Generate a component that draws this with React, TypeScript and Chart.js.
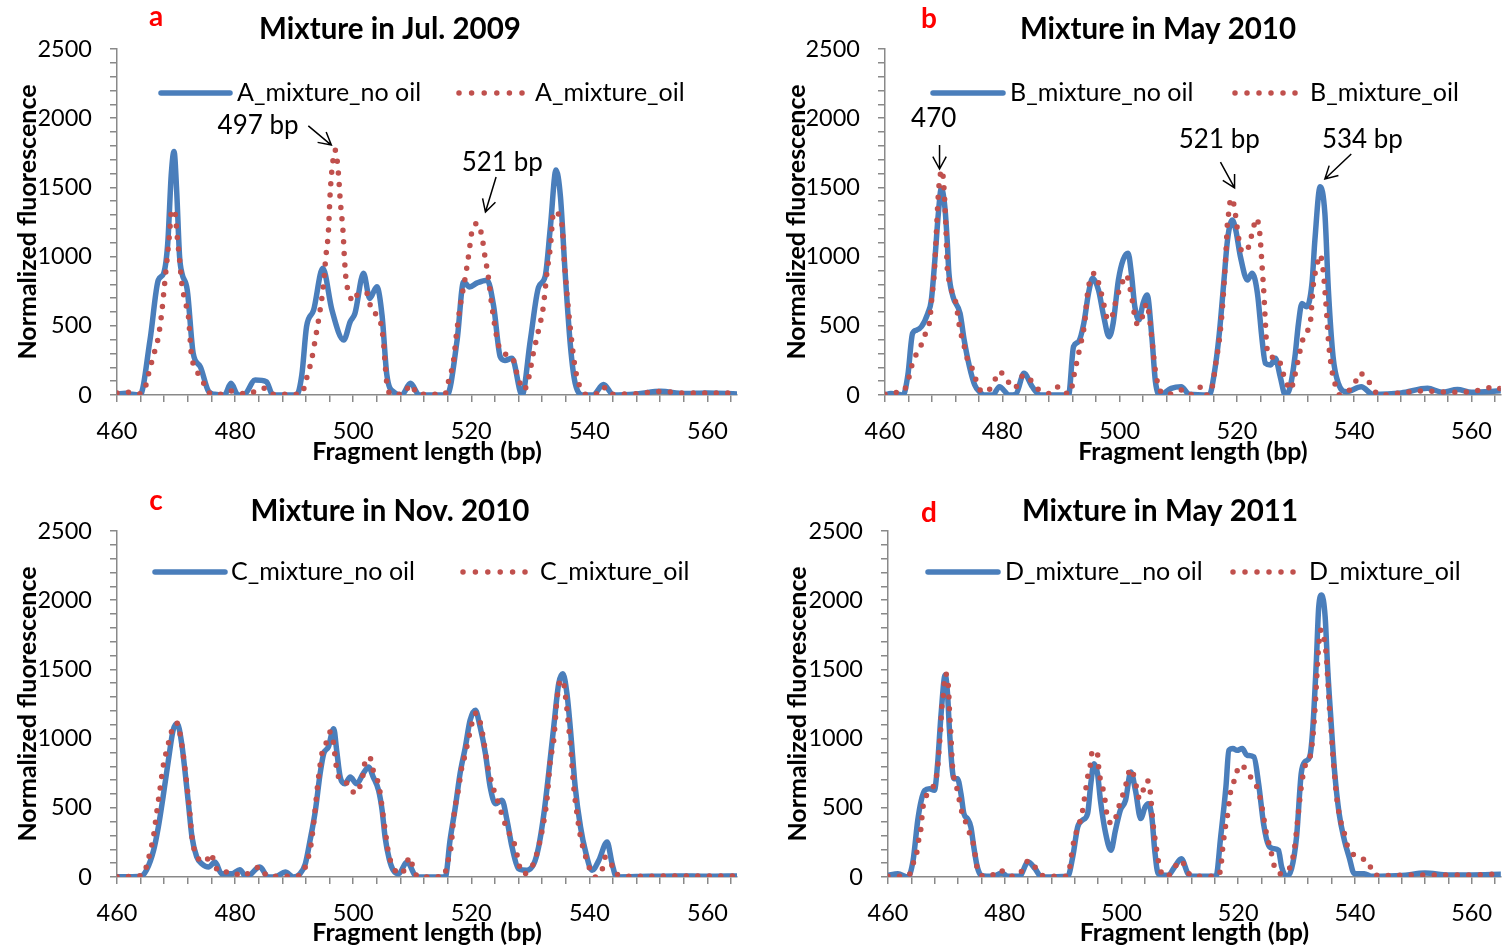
import React, { useEffect, useRef } from 'react';
import { Chart, registerables } from 'chart.js';

Chart.register(...registerables);

// ---------------- data ----------------
const X_TICKS = [460, 464, 468, 472, 476, 480, 484, 488, 492, 496, 500, 504, 508, 512, 516, 520, 524, 528, 532, 536, 540, 544, 548, 552, 556, 560, 564];
const X_LABELS = [460, 480, 500, 520, 540, 560];
const Y_TICKS = [0, 100, 200, 300, 400, 500, 600, 700, 800, 900, 1000, 1100, 1200, 1300, 1400, 1500, 1600, 1700, 1800, 1900, 2000, 2100, 2200, 2300, 2400, 2500];
const Y_LABELS = [0, 500, 1000, 1500, 2000, 2500];

const A_NO_OIL: [number, number][] = [
  [460, 8], [461.5, 12], [462.5, 5], [463.9, 0], [465.6, 400], [467.0, 831], [467.9, 879], [468.6, 1100], [469.2, 1600], [469.66, 1760],
  [470.1, 1481], [470.6, 1000], [471.0, 880], [471.9, 758], [472.9, 302], [474.1, 205], [475.5, 27], [476.5, 5], [478.2, 0], [479.3, 84],
  [480.5, 0], [481.6, 5], [483.4, 108], [485.3, 96], [486.4, 0], [490.4, 0], [491.3, 145], [492.1, 493], [493.3, 614], [494.85, 915],
  [496.4, 614], [498.4, 397], [499.5, 530], [500.3, 590], [501.75, 879], [502.8, 698], [504.0, 783], [504.9, 570], [505.7, 145], [506.9, 20],
  [508.2, 0], [509.7, 84], [511.2, 0], [515.9, 0], [517.6, 397], [518.7, 819], [519.7, 780], [521.0, 810], [522.7, 830], [523.8, 638],
  [524.9, 277], [525.7, 250], [526.9, 265], [528.6, 0], [530.0, 397], [531.4, 780], [532.5, 855], [533.4, 1216], [534.35, 1626], [535.1, 1433],
  [535.9, 880], [536.8, 350], [537.6, 84], [539.0, 0], [540.6, 0], [542.4, 75], [544.1, 0], [548, 8], [552.1, 27], [556, 10], [560, 15], [565, 8],
];
const A_OIL: [number, number][] = [
  [460, 15], [462, 20], [464, 8], [464.9, 72], [465.3, 145], [466.2, 290], [466.9, 397], [467.5, 566], [468.1, 819], [468.5, 988],
  [468.9, 1168], [469.25, 1337], [469.8, 1320], [470.2, 1145], [470.6, 976], [471.0, 795], [471.7, 650], [472.1, 566], [472.6, 290], [473.2, 200],
  [474.1, 130], [474.7, 84], [476, 5], [477.5, 5], [479, 30], [480.2, 25], [482, 5], [484.8, 50], [486, 5], [491.2, 5],
  [492.1, 120], [493, 265], [493.7, 433], [494.4, 614], [494.9, 771], [495.4, 1012], [495.8, 1180], [496.1, 1457], [496.4, 1626], [496.95, 1770],
  [497.5, 1600], [497.8, 1410], [498.3, 1168], [498.5, 1000], [498.8, 831], [499.2, 747], [500.05, 674], [500.9, 735], [502.3, 735], [503.2, 602],
  [504.3, 566], [505.1, 397], [505.4, 229], [505.7, 84], [506.5, 5], [508.5, 5], [509.7, 75], [511, 5], [515.5, 5], [516.2, 108],
  [517.0, 250], [517.5, 445], [518.1, 638], [519.0, 855], [519.6, 1024], [520.1, 1180], [521.1, 1240], [521.8, 1145], [522.4, 976], [522.8, 880],
  [523.5, 638], [524.1, 470], [524.6, 361], [525.5, 300], [526.9, 277], [527.8, 145], [528.9, 36], [529.7, 120], [530.5, 300], [531.4, 470],
  [532.2, 638], [532.8, 880], [533.4, 1072], [533.95, 1325], [534.5, 1315], [535.4, 1217], [535.7, 1000], [536.2, 735], [536.8, 470], [537.6, 193],
  [538.5, 48], [539.5, 5], [541, 5], [542.3, 60], [543.5, 5], [548, 10], [552, 25], [556, 15], [560, 15], [565, 15],
];

const B_NO_OIL: [number, number][] = [
  [460, 0], [461, 10], [462, 8], [463.1, 0], [463.9, 145], [464.7, 445], [465.4, 469], [466.2, 493], [467.3, 590], [467.9, 686],
  [468.5, 976], [469.1, 1313], [469.6, 1493], [470.2, 1360], [470.6, 1120], [470.9, 880], [471.6, 710], [472.8, 590], [473.5, 397], [474.4, 205],
  [475.3, 72], [476.1, 24], [476.9, 0], [478.4, 0], [479.5, 60], [481.2, 0], [482.3, 5], [483.7, 157], [485.1, 60], [486.5, 0],
  [491.3, 0], [492.15, 350], [493, 385], [493.9, 518], [494.7, 735], [495.4, 843], [496.4, 758], [497.3, 566], [498.2, 421], [498.9, 518],
  [499.8, 831], [500.6, 976], [501.45, 1024], [502.0, 880], [502.6, 638], [503.3, 542], [504.0, 662], [504.7, 722], [505.5, 420], [506.1, 100],
  [506.9, 0], [508.8, 48], [510.5, 60], [511.9, 5], [515.3, 0], [516.1, 145], [517.0, 445], [517.8, 831], [518.4, 1120], [519.2, 1264],
  [519.8, 1193], [520.6, 1000], [521.8, 831], [522.6, 880], [523.5, 735], [524.3, 397], [524.86, 229], [525.7, 217], [526.55, 265], [527.4, 130],
  [528.25, 0], [529.1, 60], [529.9, 277], [530.5, 518], [531.1, 662], [531.9, 638], [532.8, 807], [533.3, 1120], [534.2, 1505], [535.0, 1313],
  [535.6, 758], [536.4, 277], [537.3, 84], [538.7, 24], [541.2, 60], [543.2, 5], [548, 15], [552.5, 48], [555, 20], [557.6, 40], [560, 20], [565, 30],
];
const B_OIL: [number, number][] = [
  [460, 5], [461.5, 20], [462.5, 15], [463.6, 60], [464.1, 130], [464.6, 217], [465.4, 300], [466.3, 373], [466.9, 445], [467.6, 530],
  [468.0, 710], [468.4, 880], [468.7, 1120], [469.05, 1420], [469.3, 1553], [469.7, 1626], [470.0, 1530], [470.4, 1193], [470.6, 928], [470.9, 831],
  [471.4, 747], [472.1, 662], [472.7, 493], [473.6, 337], [474.1, 253], [475.0, 180], [475.9, 60], [476.8, 20], [477.8, 40], [478.6, 96],
  [479.5, 169], [480.8, 108], [482.0, 48], [483.7, 145], [484.6, 120], [485.6, 60], [486.8, 24], [488.2, 10], [489.6, 60], [490.6, 20],
  [491.5, 10], [492.4, 180], [493.2, 337], [494.0, 506], [494.6, 758], [495.0, 831], [495.7, 880], [496.6, 783], [497.4, 638], [498.0, 542],
  [498.8, 578], [499.4, 686], [500.3, 795], [501.1, 867], [502.0, 722], [502.6, 566], [503.1, 506], [504.0, 578], [504.6, 662], [505.4, 445],
  [505.7, 325], [506.0, 205], [506.5, 84], [507.5, 5], [509, 10], [510.5, 36], [511.8, 0], [513.3, 36], [513.9, 60], [514.9, 0],
  [515.8, 60], [516.4, 229], [517.0, 397], [517.5, 614], [518.1, 1000], [518.4, 1252], [518.7, 1337], [518.9, 1421], [519.5, 1373], [519.8, 1289],
  [520.35, 1120], [520.9, 1036], [521.6, 1036], [522.3, 1120], [522.8, 1205], [523.3, 1277], [523.9, 1168], [524.3, 928], [524.6, 735], [524.86, 518],
  [525.1, 349], [525.7, 277], [527.1, 265], [527.7, 180], [528.4, 96], [529.1, 36], [529.9, 145], [530.8, 325], [531.6, 445], [532.5, 518],
  [533.0, 783], [533.6, 928], [534.2, 1012], [534.7, 904], [535.0, 758], [535.3, 590], [535.6, 397], [536.1, 205], [536.7, 84], [537.55, 0],
  [539.2, 36], [540.1, 84], [540.9, 159], [542.1, 120], [543.2, 48], [544.2, 0], [548, 15], [552, 30], [556, 20], [560, 25], [564.3, 60], [565, 40],
];

const C_NO_OIL: [number, number][] = [
  [460, 2], [462, 2], [464, 5], [465.0, 50], [466.2, 193], [467.0, 361], [467.8, 578], [468.7, 843], [469.5, 1060], [470.2, 1110],
  [470.96, 964], [471.5, 771], [472.1, 530], [472.7, 289], [473.5, 145], [474.35, 96], [475.5, 72], [476.6, 108], [477.7, 24], [479.5, 24],
  [480.8, 53], [481.9, 0], [484.2, 72], [485.6, 0], [487, 5], [488.5, 36], [489.9, 0], [491.0, 24], [491.9, 96], [492.7, 265],
  [493.6, 482], [494.4, 747], [495.0, 891], [495.8, 940], [496.7, 1072], [497.2, 915], [497.8, 722], [498.6, 674], [499.5, 722], [500.6, 674],
  [501.7, 747], [502.6, 795], [503.4, 722], [504.3, 626], [504.9, 482], [505.4, 289], [506.1, 130], [506.8, 48], [507.7, 24], [509.1, 108],
  [510.8, 0], [515.6, 0], [516.4, 265], [517.3, 506], [518.1, 747], [519.0, 940], [519.8, 1132], [520.7, 1204], [521.5, 1084], [522.4, 891],
  [523.2, 650], [524.1, 530], [525.2, 554], [526.05, 410], [526.9, 217], [528.0, 60], [529.4, 48], [530.6, 96], [531.4, 217], [532.3, 458],
  [533.1, 747], [533.96, 1084], [534.8, 1397], [535.5, 1469], [536.2, 1325], [536.9, 1012], [537.6, 650], [538.5, 361], [539.3, 193], [540.45, 48],
  [541.6, 120], [543.0, 253], [543.85, 96], [544.6, 0], [550, 5], [555, 8], [560, 5], [565, 8],
];
const C_OIL: [number, number][] = [
  [460, 2], [463, 5], [464.5, 20], [465.0, 80], [465.6, 180], [466.2, 300], [466.7, 458], [467.3, 640], [467.8, 795], [468.7, 964],
  [469.2, 1048], [470.1, 1115], [470.6, 1050], [471.1, 920], [471.8, 680], [472.3, 480], [472.7, 290], [473.2, 180], [474.1, 120], [475.0, 110],
  [475.9, 171], [476.5, 96], [477.3, 36], [479.7, 36], [481, 5], [484.2, 72], [485.5, 5], [490, 5], [491.5, 30], [492.2, 120],
  [492.7, 193], [493.3, 385], [494.1, 710], [494.7, 891], [495.5, 976], [496.1, 1048], [496.5, 1012], [497.2, 783], [497.8, 698], [499.2, 674],
  [500.3, 602], [501.2, 662], [501.7, 747], [502.0, 831], [502.8, 867], [503.3, 783], [504.4, 650], [505.1, 434], [505.5, 313], [506.0, 169],
  [506.8, 72], [507.8, 20], [508.8, 60], [509.55, 145], [510.2, 60], [511, 0], [515.4, 5], [515.9, 96], [516.5, 193], [517.1, 458],
  [517.9, 650], [518.3, 771], [519.0, 891], [519.6, 1012], [520.4, 1156], [520.8, 1185], [521.5, 1120], [522.1, 988], [522.7, 819], [523.5, 674],
  [524.8, 506], [525.5, 410], [526.3, 325], [527.2, 253], [527.7, 169], [528.6, 24], [529.7, 36], [531.1, 169], [532.0, 337], [532.8, 554],
  [533.4, 843], [533.96, 988], [534.5, 1277], [535.1, 1421], [535.5, 1421], [535.9, 1325], [536.5, 1084], [536.9, 891], [537.35, 650], [537.9, 458],
  [538.4, 313], [539.2, 169], [541.0, 0], [542.2, 60], [542.7, 145], [543.6, 108], [544.4, 24], [548, 5], [555, 8], [560, 8], [565, 8],
];

const D_NO_OIL: [number, number][] = [
  [460, 12], [461.7, 24], [463.4, 0], [464.3, 120], [465.1, 410], [465.7, 554], [466.3, 626], [467.1, 638], [467.95, 626], [468.5, 819],
  [469.1, 1180], [469.8, 1460], [470.2, 1325], [470.5, 1084], [470.97, 795], [471.3, 710], [471.9, 710], [472.5, 602], [473.0, 458], [473.6, 422],
  [474.2, 361], [474.7, 217], [475.3, 72], [476.0, 12], [478, 5], [479.5, 29], [480.5, 5], [482.5, 5], [484.0, 108], [485.2, 60],
  [486.3, 0], [490.8, 5], [491.65, 145], [492.5, 361], [493.3, 410], [494.2, 458], [494.75, 674], [495.3, 819], [495.9, 747], [496.4, 554],
  [497.3, 313], [498.2, 193], [498.97, 337], [499.8, 482], [500.7, 554], [501.6, 759], [502.4, 626], [503.3, 422], [504.05, 506], [504.6, 530],
  [505.2, 434], [505.7, 193], [506.3, 24], [508.0, 12], [509.1, 72], [510.25, 132], [511.4, 24], [512.2, 5], [516.2, 5], [517.0, 289],
  [517.9, 650], [518.4, 915], [519.1, 928], [519.8, 915], [520.7, 928], [521.5, 880], [522.7, 867], [523.5, 674], [524.35, 385], [525.2, 229],
  [526.05, 205], [526.9, 193], [527.45, 72], [528.3, 5], [529.15, 60], [530.0, 289], [530.8, 747], [531.4, 831], [532.25, 867], [532.8, 1084],
  [533.4, 1566], [533.8, 1951], [534.3, 2037], [534.9, 1880], [535.35, 1494], [535.9, 1132], [536.5, 771], [537.3, 458], [538.2, 265], [539.0, 145],
  [539.9, 24], [541.6, 24], [542.8, 5], [548, 10], [552, 29], [556, 15], [560, 15], [565, 19],
];
const D_OIL: [number, number][] = [
  [460, 5], [462, 5], [463.5, 8], [464.3, 96], [464.9, 169], [465.2, 253], [465.6, 337], [466.0, 506], [466.6, 590], [467.4, 626],
  [468.2, 710], [468.5, 783], [468.8, 952], [469.0, 1048], [469.2, 1217], [469.5, 1325], [469.8, 1469], [470.2, 1430], [470.4, 1337], [470.5, 1229],
  [470.8, 1012], [471.05, 800], [471.4, 698], [471.9, 626], [472.5, 494], [473.3, 398], [473.9, 325], [474.55, 253], [474.9, 169], [475.3, 60],
  [475.9, 12], [477.5, 5], [479.1, 53], [480.5, 10], [482, 5], [483.0, 48], [484.1, 120], [485.4, 60], [486.3, 12], [490.5, 5],
  [491.1, 60], [491.65, 217], [492.2, 313], [493.3, 470], [493.9, 638], [494.2, 722], [494.65, 807], [494.9, 891], [495.3, 908], [495.8, 915],
  [496.2, 747], [496.7, 662], [497.1, 578], [497.7, 410], [498.7, 385], [499.2, 458], [499.8, 542], [500.4, 614], [500.95, 698], [501.5, 783],
  [502.2, 722], [503.1, 566], [503.7, 626], [504.4, 699], [504.9, 626], [505.45, 373], [506.0, 205], [506.3, 120], [506.8, 36], [507.7, 0],
  [509.1, 72], [510.3, 120], [511.1, 48], [512.5, 5], [516.5, 5], [517.0, 60], [517.4, 229], [517.9, 385], [518.3, 482], [518.5, 566],
  [518.9, 650], [519.6, 722], [520.1, 807], [521.25, 783], [522.3, 710], [523.2, 650], [523.8, 566], [524.5, 398], [524.9, 301], [525.5, 205],
  [525.9, 132], [526.3, 60], [527.2, 24], [528.1, 36], [528.9, 72], [529.6, 193], [530.3, 458], [530.8, 650], [531.4, 795], [532.25, 855],
  [532.8, 1012], [533.2, 1241], [533.7, 1614], [534.1, 1783], [534.5, 1783], [534.8, 1687], [535.1, 1602], [535.35, 1421], [535.6, 1241], [535.9, 1072],
  [536.2, 891], [536.5, 747], [536.9, 566], [537.6, 398], [538.2, 313], [538.7, 229], [539.6, 169], [541.0, 132], [542.4, 108], [543.0, 24],
  [545, 10], [550, 15], [555, 15], [560, 15], [565, 24],
];

// ---------------- styling / layout ----------------
const FONT = 'Lato, "Open Sans", sans-serif';
const BLUE = '#4A7EBB';
const RED = '#C0504D';
const AXIS_GRAY = '#898989';
const CW = 755;
const CH = 474;

type Ann = { text: string; tx: number; ty: number; x1: number; y1: number; x2: number; y2: number };
type PanelCfg = {
  left: number; top: number;
  area: { left: number; top: number; right: number; bottom: number };
  yTitleCenter: number; xTitleCenter: number;
  letter: string; letterX: number; letterY: number;
  title: string; titleX: number; titleY: number;
  legendY: number; blueX1: number; blueX2: number; blueTextX: number; redX1: number; redX2: number; redTextX: number;
  blueLabel: string; redLabel: string;
  noOil: [number, number][]; oil: [number, number][];
  anns: Ann[];
};

const PANELS: PanelCfg[] = [
  {
    left: 0, top: 0, area: { left: 117, top: 49, right: 737, bottom: 395 }, yTitleCenter: 28, xTitleCenter: 452,
    letter: 'a', letterX: 156, letterY: 26, title: 'Mixture in Jul. 2009', titleX: 390, titleY: 39,
    legendY: 93, blueX1: 161, blueX2: 230, blueTextX: 237, redX1: 459, redX2: 522, redTextX: 535,
    blueLabel: 'A_mixture_no oil', redLabel: 'A_mixture_oil', noOil: A_NO_OIL, oil: A_OIL,
    anns: [
      { text: '497 bp', tx: 483.9, ty: 1944, x1: 492.4, y1: 1944, x2: 496.3, y2: 1806 },
      { text: '521 bp', tx: 525.25, ty: 1676, x1: 524.2, y1: 1575, x2: 522.4, y2: 1322 },
    ],
  },
  {
    left: 755, top: 0, area: { left: 130, top: 49, right: 750, bottom: 395 }, yTitleCenter: 42, xTitleCenter: 452,
    letter: 'b', letterX: 174, letterY: 28, title: 'Mixture in May 2010', titleX: 403, titleY: 39,
    legendY: 93, blueX1: 178, blueX2: 248, blueTextX: 255, redX1: 480, redX2: 540, redTextX: 555,
    blueLabel: 'B_mixture_no oil', redLabel: 'B_mixture_oil', noOil: B_NO_OIL, oil: B_OIL,
    anns: [
      { text: '470', tx: 468.3, ty: 1994, x1: 469.3, y1: 1806, x2: 469.3, y2: 1633 },
      { text: '521 bp', tx: 517.0, ty: 1842, x1: 517.2, y1: 1683, x2: 519.6, y2: 1496 },
      { text: '534 bp', tx: 541.4, ty: 1842, x1: 539.5, y1: 1741, x2: 535.0, y2: 1561 },
    ],
  },
  {
    left: 0, top: 474, area: { left: 117, top: 57, right: 737, bottom: 403 }, yTitleCenter: 28, xTitleCenter: 459,
    letter: 'c', letterX: 156, letterY: 36, title: 'Mixture in Nov. 2010', titleX: 390, titleY: 47,
    legendY: 98, blueX1: 155, blueX2: 225, blueTextX: 231, redX1: 463, redX2: 525, redTextX: 540,
    blueLabel: 'C_mixture_no oil', redLabel: 'C_mixture_oil', noOil: C_NO_OIL, oil: C_OIL,
    anns: [],
  },
  {
    left: 755, top: 474, area: { left: 133, top: 57, right: 753, bottom: 403 }, yTitleCenter: 43, xTitleCenter: 459,
    letter: 'd', letterX: 174, letterY: 48, title: 'Mixture in May 2011', titleX: 405, titleY: 47,
    legendY: 98, blueX1: 173, blueX2: 243, blueTextX: 250, redX1: 478, redX2: 538, redTextX: 554,
    blueLabel: 'D_mixture__no oil', redLabel: 'D_mixture_oil', noOil: D_NO_OIL, oil: D_OIL,
    anns: [],
  },
];

const TICK_SIZE = 23.5;
const AXIS_TITLE_SIZE = 25;
const LEGEND_SIZE = 25;
const ANN_SIZE = 26;
const TITLE_SIZE = 29.5;
const LETTER_SIZE = 28;

function makeDecor(cfg: PanelCfg) {
  return {
    id: 'decor',
    afterDraw(chart: any) {
      const ctx: CanvasRenderingContext2D = chart.ctx;
      const xs = chart.scales.x;
      const ys = chart.scales.y;
      ctx.save();
      // letter
      ctx.fillStyle = '#FF0000';
      ctx.font = `bold ${LETTER_SIZE}px ${FONT}`;
      ctx.textAlign = 'center';
      ctx.textBaseline = 'alphabetic';
      ctx.fillText(cfg.letter, cfg.letterX, cfg.letterY);
      // title
      ctx.fillStyle = '#000';
      ctx.font = `bold ${TITLE_SIZE}px ${FONT}`;
      ctx.fillText(cfg.title, cfg.titleX, cfg.titleY);
      // legend
      ctx.lineCap = 'round';
      ctx.strokeStyle = BLUE;
      ctx.lineWidth = 5.5;
      ctx.beginPath();
      ctx.moveTo(cfg.blueX1, cfg.legendY);
      ctx.lineTo(cfg.blueX2, cfg.legendY);
      ctx.stroke();
      ctx.strokeStyle = RED;
      ctx.lineWidth = 5.5;
      ctx.setLineDash([0, (cfg.redX2 - cfg.redX1) / 5]);
      ctx.beginPath();
      ctx.moveTo(cfg.redX1, cfg.legendY);
      ctx.lineTo(cfg.redX2 + 0.5, cfg.legendY);
      ctx.stroke();
      ctx.setLineDash([]);
      ctx.font = `${LEGEND_SIZE}px ${FONT}`;
      ctx.textAlign = 'left';
      ctx.textBaseline = 'middle';
      ctx.fillStyle = '#000';
      ctx.fillText(cfg.blueLabel, cfg.blueTextX, cfg.legendY);
      ctx.fillText(cfg.redLabel, cfg.redTextX, cfg.legendY);
      // annotations
      ctx.font = `${ANN_SIZE}px ${FONT}`;
      ctx.textAlign = 'center';
      ctx.strokeStyle = '#000';
      ctx.lineWidth = 1.5;
      ctx.lineCap = 'butt';
      for (const a of cfg.anns) {
        ctx.fillText(a.text, xs.getPixelForValue(a.tx), ys.getPixelForValue(a.ty));
        const px1 = xs.getPixelForValue(a.x1), py1 = ys.getPixelForValue(a.y1);
        const px2 = xs.getPixelForValue(a.x2), py2 = ys.getPixelForValue(a.y2);
        const ang = Math.atan2(py2 - py1, px2 - px1);
        const L = 14, spread = 0.5;
        ctx.beginPath();
        ctx.moveTo(px1, py1);
        ctx.lineTo(px2, py2);
        ctx.moveTo(px2 - L * Math.cos(ang - spread), py2 - L * Math.sin(ang - spread));
        ctx.lineTo(px2, py2);
        ctx.lineTo(px2 - L * Math.cos(ang + spread), py2 - L * Math.sin(ang + spread));
        ctx.stroke();
      }
      ctx.restore();
    },
  };
}

function Panel({ cfg }: { cfg: PanelCfg }) {
  const ref = useRef<HTMLCanvasElement>(null);
  useEffect(() => {
    const canvas = ref.current;
    if (!canvas) return;
    const yWidth = cfg.area.left;
    const xHeight = CH - cfg.area.bottom;
    const tickFont = { family: FONT, size: TICK_SIZE };
    const titleFont = { family: FONT, size: AXIS_TITLE_SIZE, weight: 'bold' as const, lineHeight: 1 };
    const chart = new Chart(canvas, {
      type: 'line',
      data: {
        datasets: [
          {
            label: cfg.redLabel,
            data: cfg.oil.map(([x, y]) => ({ x, y })),
            borderColor: RED,
            backgroundColor: RED,
            borderWidth: 5.5,
            borderDash: [0, 11.5],
            borderCapStyle: 'round',
            borderJoinStyle: 'round',
            cubicInterpolationMode: 'monotone',
            pointRadius: 0,
            fill: false,
            order: 0,
          },
          {
            label: cfg.blueLabel,
            data: cfg.noOil.map(([x, y]) => ({ x, y })),
            borderColor: BLUE,
            backgroundColor: BLUE,
            borderWidth: 5.5,
            borderCapStyle: 'round',
            borderJoinStyle: 'round',
            cubicInterpolationMode: 'monotone',
            pointRadius: 0,
            fill: false,
            order: 1,
          },
        ],
      },
      options: {
        responsive: false,
        maintainAspectRatio: false,
        animation: false,
        events: [],
        layout: { padding: { top: cfg.area.top, left: 0, right: CW - cfg.area.right, bottom: 0 } },
        plugins: { legend: { display: false }, title: { display: false }, tooltip: { enabled: false } },
        scales: {
          x: {
            type: 'linear',
            min: 460,
            max: 565,
            afterBuildTicks: (s: any) => { s.ticks = X_TICKS.map((v) => ({ value: v })); },
            afterFit: (s: any) => { s.height = xHeight; },
            grid: { display: true, drawOnChartArea: false, drawTicks: true, tickLength: 7, color: AXIS_GRAY, lineWidth: 1.5 },
            border: { display: true, color: AXIS_GRAY, width: 1.5 },
            ticks: {
              autoSkip: false, maxRotation: 0, minRotation: 0, padding: 15, color: '#000', font: tickFont,
              callback: (v: any) => (X_LABELS.includes(Number(v)) ? String(v) : ''),
            },
            title: {
              display: true, text: 'Fragment length (bp)', color: '#000', font: titleFont,
              padding: { top: 0, bottom: CH - cfg.xTitleCenter - AXIS_TITLE_SIZE / 2 },
            },
          },
          y: {
            type: 'linear',
            min: 0,
            max: 2500,
            afterBuildTicks: (s: any) => { s.ticks = Y_TICKS.map((v) => ({ value: v })); },
            afterFit: (s: any) => { s.width = yWidth; },
            grid: { display: true, drawOnChartArea: false, drawTicks: true, tickLength: 7, color: AXIS_GRAY, lineWidth: 1.5 },
            border: { display: true, color: AXIS_GRAY, width: 1.5 },
            ticks: {
              autoSkip: false, padding: 18, color: '#000', font: tickFont,
              callback: (v: any) => (Y_LABELS.includes(Number(v)) ? String(v) : ''),
            },
            title: {
              display: true, text: 'Normalized fluorescence', color: '#000', font: titleFont,
              padding: { top: cfg.yTitleCenter - AXIS_TITLE_SIZE / 2, bottom: 0 },
            },
          },
        },
      } as any,
      plugins: [makeDecor(cfg)],
    });
    return () => chart.destroy();
  }, [cfg]);
  return (
    <canvas
      ref={ref}
      width={CW}
      height={CH}
      style={{ position: 'absolute', left: cfg.left, top: cfg.top, width: CW, height: CH }}
    />
  );
}

export default function App() {
  return (
    <div style={{ position: 'absolute', left: 0, top: 0, width: 1510, height: 948, background: '#fff', overflow: 'hidden' }}>
      {PANELS.map((p, i) => (
        <Panel key={i} cfg={p} />
      ))}
    </div>
  );
}
